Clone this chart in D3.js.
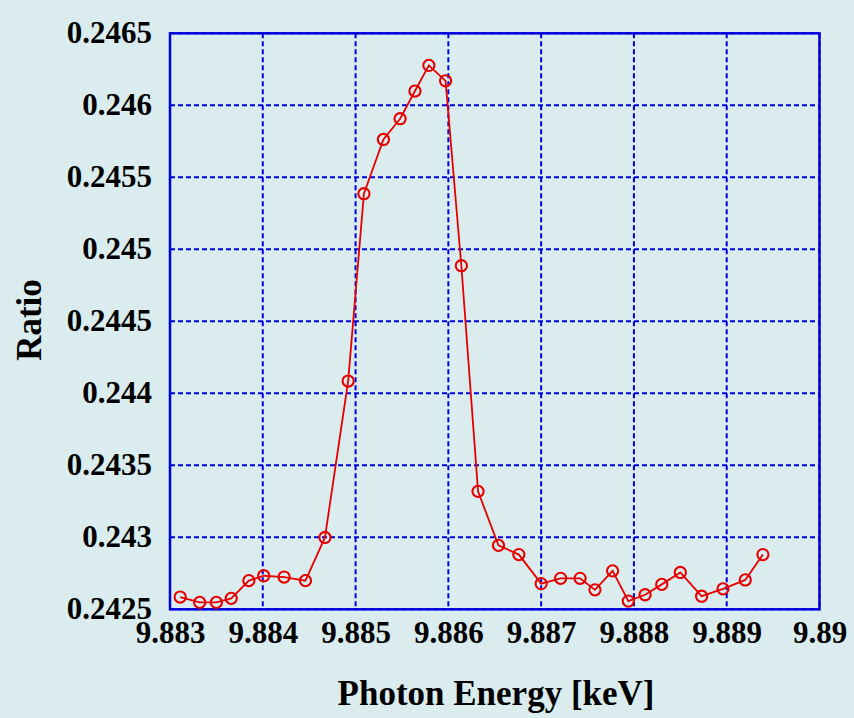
<!DOCTYPE html>
<html>
<head>
<meta charset="utf-8">
<script src="https://cdn.jsdelivr.net/npm/d3@7"></script>
<style>
  html, body { margin: 0; padding: 0; background: #daecee; }
  svg { display: block; }
  text { font-family: "Liberation Serif", "Times New Roman", serif; font-weight: bold; fill: #000; }
</style>
</head>
<body>
<script>
// Photon energy scan (keV) and measured ratio
const energy = [
  9.88311, 9.88332, 9.88350, 9.88366, 9.88385, 9.88401, 9.88423, 9.88446,
  9.88467, 9.88492, 9.88509, 9.88530, 9.88548, 9.88564, 9.88579, 9.88597,
  9.88614, 9.88632, 9.88654, 9.88676, 9.88700, 9.88721, 9.88742, 9.88758,
  9.88777, 9.88794, 9.88812, 9.88830, 9.88850, 9.88873, 9.88896, 9.88920,
  9.88939
];
const ratio = [
  0.242585, 0.242548, 0.242548, 0.242576, 0.242699, 0.242733, 0.242724, 0.242699,
  0.242999, 0.244085, 0.245386, 0.245763, 0.245907, 0.246099, 0.246277, 0.246170,
  0.244886, 0.243319, 0.242944, 0.242880, 0.242678, 0.242715, 0.242715, 0.242635,
  0.242767, 0.242557, 0.242601, 0.242673, 0.242756, 0.242591, 0.242642, 0.242704,
  0.242880
];
const xTicks = [9.883, 9.884, 9.885, 9.886, 9.887, 9.888, 9.889, 9.89];
const yTicks = [0.2425, 0.243, 0.2435, 0.244, 0.2445, 0.245, 0.2455, 0.246, 0.2465];
const xTickLabels = ["9.883", "9.884", "9.885", "9.886", "9.887", "9.888", "9.889", "9.89"];
const yTickLabels = ["0.2425", "0.243", "0.2435", "0.244", "0.2445", "0.245", "0.2455", "0.246", "0.2465"];

const W = 854, H = 718;
const plotL = 170, plotR = 819.5, plotT = 33.3, plotB = 609.3;

const svg = d3.select("body").append("svg").attr("width", W).attr("height", H);
svg.append("rect").attr("width", W).attr("height", H).attr("fill", "#daecee");

const x = d3.scaleLinear().domain([9.883, 9.89]).range([plotL, plotR]);
const y = d3.scaleLinear().domain([0.2425, 0.2465]).range([plotB, plotT]);

const blue = "#0000dc";

// dashed grid
const grid = svg.append("g");
grid.selectAll(".gx").data(xTicks).join("line")
  .attr("x1", d => x(d)).attr("x2", d => x(d))
  .attr("y1", plotT).attr("y2", plotB)
  .attr("stroke", blue).attr("stroke-width", 2).attr("stroke-dasharray", "5,3");
grid.selectAll(".gy").data(yTicks).join("line")
  .attr("y1", d => y(d)).attr("y2", d => y(d))
  .attr("x1", plotL).attr("x2", plotR)
  .attr("stroke", blue).attr("stroke-width", 2).attr("stroke-dasharray", "5,3");

// frame
svg.append("rect")
  .attr("x", plotL).attr("y", plotT)
  .attr("width", plotR - plotL).attr("height", plotB - plotT)
  .attr("fill", "none").attr("stroke", blue).attr("stroke-width", 2.5);

// axes (labels only)
const xAxis = d3.axisBottom(x).tickValues(xTicks)
  .tickFormat((d, i) => xTickLabels[i]).tickSize(0).tickPadding(0);
const gx = svg.append("g").attr("transform", `translate(0,${plotB})`).call(xAxis);
gx.select(".domain").remove();
gx.selectAll("text")
  .attr("dy", null).attr("y", 34)
  .style("font-family", "'Liberation Serif', serif").style("font-weight", "bold")
  .style("font-size", "31px").attr("fill", "#000");

const yAxis = d3.axisLeft(y).tickValues(yTicks)
  .tickFormat((d, i) => yTickLabels[i]).tickSize(0).tickPadding(18);
const gy = svg.append("g").attr("transform", `translate(${plotL},0)`).call(yAxis);
gy.select(".domain").remove();
gy.selectAll("text")
  .attr("dy", "0.3em")
  .style("font-family", "'Liberation Serif', serif").style("font-weight", "bold")
  .style("font-size", "31px").attr("fill", "#000");

// titles
svg.append("text")
  .attr("x", 496).attr("y", 705)
  .attr("text-anchor", "middle").style("font-size", "35px")
  .text("Photon Energy [keV]");
svg.append("text")
  .attr("transform", "translate(41,320) rotate(-90)")
  .attr("text-anchor", "middle").style("font-size", "35px")
  .text("Ratio");

// data
const pts = energy.map((e, i) => [e, ratio[i]]);
const red = "#e60000";
svg.append("path")
  .datum(pts)
  .attr("d", d3.line().x(d => x(d[0])).y(d => y(d[1])))
  .attr("fill", "none").attr("stroke", red).attr("stroke-width", 1.8);
svg.append("g").selectAll("circle").data(pts).join("circle")
  .attr("cx", d => x(d[0])).attr("cy", d => y(d[1])).attr("r", 5.6)
  .attr("fill", "none").attr("stroke", red).attr("stroke-width", 2.1);
</script>
</body>
</html>
